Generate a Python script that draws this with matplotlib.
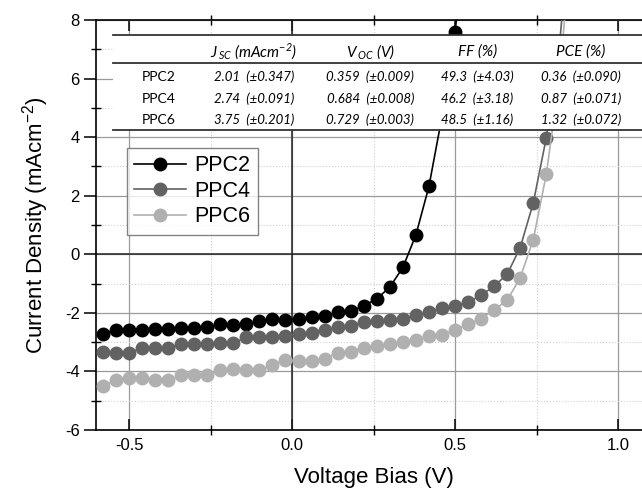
import matplotlib
matplotlib.use("Agg")
import matplotlib.pyplot as plt
from matplotlib.patches import Rectangle
from matplotlib.ticker import MultipleLocator

plt.rcParams["font.family"] = ["Liberation Sans", "DejaVu Sans"]

# J-V data (mA cm^-2 vs V)
V_PPC2 = [-0.58, -0.54, -0.50, -0.46, -0.42, -0.38, -0.34, -0.30, -0.26, -0.22,
          -0.18, -0.14, -0.10, -0.06, -0.02, 0.02, 0.06, 0.10, 0.14, 0.18,
          0.22, 0.26, 0.30, 0.34, 0.38, 0.42, 0.46, 0.50, 0.54]
J_PPC2 = [-2.71, -2.59, -2.57, -2.57, -2.54, -2.54, -2.51, -2.51, -2.49, -2.39,
          -2.41, -2.37, -2.29, -2.22, -2.25, -2.20, -2.14, -2.10, -1.97, -1.95,
          -1.76, -1.52, -1.12, -0.45, 0.66, 2.32, 4.7, 7.6, 11.5]

V_LONG = [-0.58, -0.54, -0.50, -0.46, -0.42, -0.38, -0.34, -0.30, -0.26, -0.22,
          -0.18, -0.14, -0.10, -0.06, -0.02, 0.02, 0.06, 0.10, 0.14, 0.18,
          0.22, 0.26, 0.30, 0.34, 0.38, 0.42, 0.46, 0.50, 0.54, 0.58,
          0.62, 0.66, 0.70, 0.74, 0.78, 0.82, 0.86]
J_PPC4 = [-3.33, -3.37, -3.37, -3.20, -3.20, -3.20, -3.05, -3.05, -3.05, -3.03,
          -3.03, -2.84, -2.84, -2.84, -2.80, -2.71, -2.68, -2.57, -2.49, -2.44,
          -2.31, -2.28, -2.25, -2.20, -2.08, -1.97, -1.85, -1.77, -1.63, -1.40,
          -1.09, -0.68, 0.23, 1.75, 3.98, 7.1, 12.0]
J_PPC6 = [-4.50, -4.30, -4.24, -4.24, -4.30, -4.30, -4.13, -4.13, -4.13, -3.96,
          -3.92, -3.96, -3.96, -3.79, -3.60, -3.64, -3.64, -3.56, -3.36, -3.32,
          -3.19, -3.14, -3.05, -2.99, -2.91, -2.80, -2.74, -2.59, -2.39, -2.20,
          -1.89, -1.57, -0.80, 0.50, 2.73, 6.0, 11.0]

SERIES = ["PPC2", "PPC4", "PPC6"]
COLORS = ["#000000", "#626262", "#b0b0b0"]

# summary table
TABLE_HEADER = [r"$\mathregular{J_{\,SC}}$ (mAcm$^{\mathregular{-2}}$)",
                r"$\mathregular{V_{\,OC}}$ (V)", "FF (%)", "PCE (%)"]
TABLE_ROWS = [
    ["2.01  (±0.347)", "0.359  (±0.009)", "49.3  (±4.03)", "0.36  (±0.090)"],
    ["2.74  (±0.091)", "0.684  (±0.008)", "46.2  (±3.18)", "0.87  (±0.071)"],
    ["3.75  (±0.201)", "0.729  (±0.003)", "48.5  (±1.16)", "1.32  (±0.072)"],
]

fig = plt.figure(figsize=(6.42, 4.97), dpi=100)
ax = fig.add_axes([0.1502, 0.1348, 0.8632, 0.8249])

xs = [V_PPC2, V_LONG, V_LONG]
ys = [J_PPC2, J_PPC4, J_PPC6]
for name, x, y, c in zip(SERIES, xs, ys, COLORS):
    ax.plot(x, y, "-o", color=c, lw=1.2, ms=9, mec=c, label=name, zorder=3)

ax.set_xlim(-0.6, 1.1)
ax.set_ylim(-6, 8)
ax.xaxis.set_major_locator(MultipleLocator(0.5))
ax.xaxis.set_minor_locator(MultipleLocator(0.25))
ax.yaxis.set_major_locator(MultipleLocator(2))
ax.yaxis.set_minor_locator(MultipleLocator(1))
ax.set_xticks([-0.5, 0.0, 0.5, 1.0])
ax.set_xticklabels(["-0.5", "0.0", "0.5", "1.0"])
ax.set_yticks([-6, -4, -2, 0, 2, 4, 6, 8])
ax.set_yticklabels(["-6", "-4", "-2", "0", "2", "4", "6", "8"])

ax.grid(which="major", color="#9a9a9a", lw=0.9, ls="-", zorder=0)
ax.grid(which="minor", color="#cfcfcf", lw=0.8, ls=":", zorder=0)
ax.axhline(0, color="#222222", lw=1.1, zorder=1)
ax.axvline(0, color="#222222", lw=1.1, zorder=1)
ax.set_axisbelow(True)

for side in ["left", "bottom", "top"]:
    ax.spines[side].set_linewidth(1.2)
ax.spines["right"].set_visible(False)
ax.tick_params(axis="x", which="major", direction="in", length=8, width=1.1,
               top=True, labelsize=12, pad=6)
ax.tick_params(axis="x", which="minor", direction="inout", length=7, width=1.0,
               top=True)
ax.tick_params(axis="y", which="major", direction="out", length=9, width=1.1,
               labelsize=12, pad=3)
ax.tick_params(axis="y", which="minor", direction="inout", length=7, width=1.0)

ax.set_xlabel("Voltage Bias (V)", fontsize=16, labelpad=10)
ax.set_ylabel(r"Current Density (mAcm$^{\mathregular{-2}}$)", fontsize=16,
              labelpad=10)

leg = ax.legend(loc="upper left", bbox_to_anchor=(0.055, 0.688),
                borderaxespad=0, fontsize=15.5, frameon=True, fancybox=False,
                handlelength=2.4, handletextpad=0.4, labelspacing=0.2,
                borderpad=0.35, markerscale=1.0)
leg.get_frame().set_edgecolor("#666666")
leg.get_frame().set_linewidth(1.0)

# table overlay
tbl_z = 6
ax.add_patch(Rectangle((0.030, 0.732), 1.0, 0.231, transform=ax.transAxes,
                       facecolor="white", edgecolor="none", zorder=tbl_z,
                       clip_on=False))
for yl in [0.963, 0.895, 0.732]:
    ax.plot([0.030, 1.0], [yl, yl], transform=ax.transAxes, color="#333333",
            lw=1.3, zorder=tbl_z + 1, clip_on=False)

col_x = [0.284, 0.494, 0.687, 0.874]
row_y = [0.861, 0.807, 0.756]
tfont = ["Lato", "DejaVu Sans"]
for cx, h in zip(col_x, TABLE_HEADER):
    ax.text(cx, 0.922, h, transform=ax.transAxes, ha="center", va="center",
            fontsize=11, style="italic", family=tfont, zorder=tbl_z + 2)
for ry, name, row in zip(row_y, SERIES, TABLE_ROWS):
    ax.text(0.082, ry, name, transform=ax.transAxes, ha="left", va="center",
            fontsize=10, family=tfont, zorder=tbl_z + 2)
    for cx, val in zip(col_x, row):
        ax.text(cx, ry, val, transform=ax.transAxes, ha="center", va="center",
                fontsize=9.5, style="italic", family=tfont, zorder=tbl_z + 2)

fig.savefig("out.png", dpi=100)
